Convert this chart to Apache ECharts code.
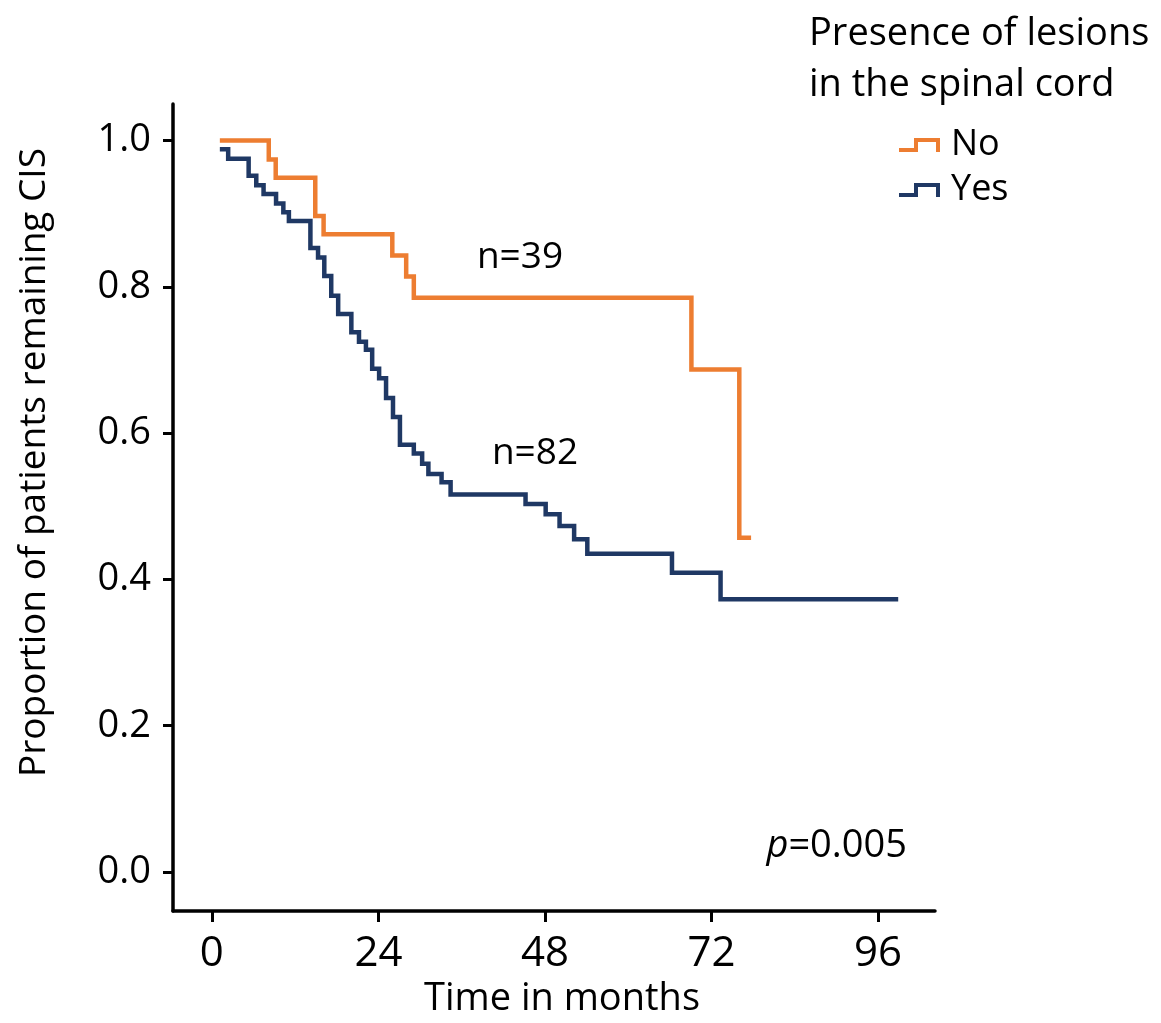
<!DOCTYPE html>
<html>
<head>
<meta charset="utf-8">
<script src="https://cdn.jsdelivr.net/npm/echarts@6/dist/echarts.min.js"></script>
<style>
html,body{margin:0;padding:0;background:#fff;}
#chart{width:1161px;height:1023px;}
</style>
</head>
<body>
<div id="chart"></div>
<script>
// ---- Data ----
const seriesNames = ['No', 'Yes'];
const noTimes = [1.15, 8.2, 9.2, 14.9, 16.1, 26.0, 28.0, 29.1, 69.1, 76.0, 77.7];
const noSurv  = [1.000, 0.974, 0.949, 0.897, 0.872, 0.843, 0.814, 0.785, 0.687, 0.457, 0.457];
const yesTimes = [1.15, 2.35, 5.3, 6.4, 7.45, 9.25, 10.3, 11.1, 14.2, 15.3, 16.2, 17.2, 18.2, 20.1, 21.2, 22.2, 23.1, 24.1, 25.1, 26.1, 27.1, 29.1, 30.3, 31.2, 33.1, 34.4, 45.2, 48.1, 50.1, 52.2, 54.1, 66.3, 73.3, 98.9];
const yesSurv  = [0.988, 0.975, 0.952, 0.939, 0.927, 0.914, 0.902, 0.890, 0.853, 0.840, 0.815, 0.788, 0.763, 0.738, 0.725, 0.714, 0.688, 0.675, 0.648, 0.622, 0.584, 0.572, 0.558, 0.544, 0.533, 0.516, 0.503, 0.489, 0.473, 0.455, 0.435, 0.409, 0.373, 0.373];
const xTicks = [0, 24, 48, 72, 96];
const yTicks = [0, 0.2, 0.4, 0.6, 0.8, 1.0];
const nLabels = ['n=39', 'n=82'];
const pLabel = '0.005';

const FONT = '"Open Sans", "Noto Sans", sans-serif';
const colors = ['#ED7D31', '#1F3864'];
const stepIcon = 'path://M0,10 L15,10 L15,0 L41,0 L41,14 L37,14 L37,4 L19,4 L19,14 L0,14 Z';

function zip(xs, ys){ return xs.map((x, i) => [x, ys[i]]); }

const chart = echarts.init(document.getElementById('chart'), null, {renderer: 'canvas'});
const option = {
  animation: false,
  backgroundColor: '#fff',
  textStyle: {fontFamily: FONT, color: '#000'},
  title: {
    text: 'Presence of lesions\nin the spinal cord',
    left: 804, top: 4,
    textStyle: {fontFamily: FONT, fontSize: 38, fontWeight: 'normal', color: '#000', lineHeight: 51}
  },
  legend: {
    orient: 'vertical',
    left: 894, top: 122,
    itemWidth: 41, itemHeight: 14, itemGap: 9,
    data: seriesNames.map((n, i) => ({name: n, icon: stepIcon, itemStyle: {color: colors[i]}})),
    textStyle: {fontFamily: FONT, fontSize: 36, color: '#000', padding: [0, 0, 0, 6]}
  },
  grid: {left: 173, right: 226, top: 104, bottom: 104, containLabel: false},
  xAxis: {
    type: 'value', min: -5.6, max: 104.2,
    name: 'Time in months', nameLocation: 'middle', nameGap: 64,
    nameTextStyle: {fontFamily: FONT, fontSize: 38, color: '#000', padding: [0, 0, 0, 16]},
    axisLine: {onZero: false, lineStyle: {color: '#000', width: 3.5}},
    axisTick: {show: true, length: 11, lineStyle: {color: '#000', width: 3}, customValues: xTicks},
    axisLabel: {fontFamily: FONT, fontSize: 42, color: '#000', margin: 22, customValues: xTicks},
    splitLine: {show: false}
  },
  yAxis: {
    type: 'value', min: -0.0535, max: 1.05,
    name: 'Proportion of patients remaining CIS', nameLocation: 'middle', nameGap: 120, nameRotate: 90,
    nameTextStyle: {fontFamily: FONT, fontSize: 37, color: '#000', padding: [0, 0, 0, 90]},
    axisLine: {onZero: false, lineStyle: {color: '#000', width: 3.5}},
    axisTick: {show: true, length: 10, lineStyle: {color: '#000', width: 3}, customValues: yTicks},
    axisLabel: {fontFamily: FONT, fontSize: 38, color: '#000', margin: 22, customValues: yTicks,
      formatter: v => v.toFixed(1)},
    splitLine: {show: false}
  },
  series: [
    {name: seriesNames[0], type: 'line', step: 'end', showSymbol: false, symbol: 'none',
     data: zip(noTimes, noSurv), color: colors[0],
     lineStyle: {color: colors[0], width: 4.5, join: 'miter', cap: 'butt'}},
    {name: seriesNames[1], type: 'line', step: 'end', showSymbol: false, symbol: 'none',
     data: zip(yesTimes, yesSurv), color: colors[1],
     lineStyle: {color: colors[1], width: 4.5, join: 'miter', cap: 'butt'}}
  ],
  graphic: [
    {type: 'text', x: 520, y: 257, style: {text: nLabels[0], fontFamily: FONT, fontSize: 37, fill: '#000', align: 'center', verticalAlign: 'middle'}},
    {type: 'text', x: 535, y: 453, style: {text: nLabels[1], fontFamily: FONT, fontSize: 37, fill: '#000', align: 'center', verticalAlign: 'middle'}},
    {type: 'text', x: 907, y: 846, style: {
      text: '{i|p}=' + pLabel, fontFamily: FONT, fontSize: 38, fill: '#000', align: 'right', verticalAlign: 'middle',
      rich: {i: {fontStyle: 'italic', fontFamily: FONT, fontSize: 38, fill: '#000'}}}}
  ]
};
chart.setOption(option);
</script>
</body>
</html>
